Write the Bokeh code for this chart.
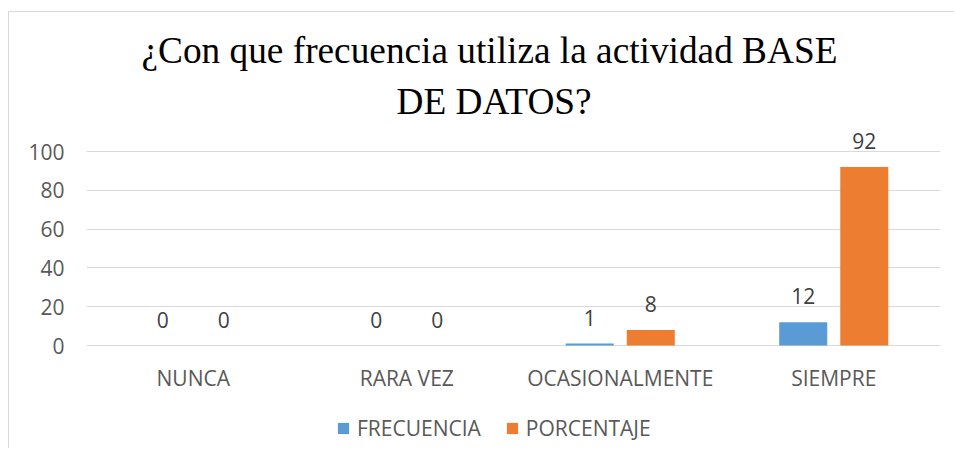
from bokeh.plotting import figure
from bokeh.models import ColumnDataSource, FactorRange, Range1d, FixedTicker, Legend, LegendItem, LabelSet, Title
from bokeh.core.properties import value
from bokeh.transform import dodge
from bokeh.embed import file_html
from bokeh.resources import INLINE

categories = ["NUNCA", "RARA VEZ", "OCASIONALMENTE", "SIEMPRE"]
frecuencia = [0, 0, 1, 12]
porcentaje = [0, 0, 8, 92]
y_ticks = [0, 20, 40, 60, 80, 100]
title_line1 = "¿Con que frecuencia utiliza la actividad BASE"
title_line2 = "DE DATOS?"

BLUE = "#5B9BD5"
ORANGE = "#ED7D31"
FONT = "Open Sans"
FS = "21px"

PX_PER_UNIT = 1.94
src = ColumnDataSource(dict(cat=categories, f=frecuencia, p=porcentaje,
                            fl=[str(v) for v in frecuencia], pl=[str(v) for v in porcentaje],
                            zero=[0] * len(categories)))

H = 437
TOP = 117
frame_h = H - TOP
y_end = 216 / PX_PER_UNIT
y_start = y_end - frame_h / PX_PER_UNIT

p = figure(width=946, height=H, x_range=FactorRange(*categories, range_padding=0),
           y_range=Range1d(y_start, y_end), output_backend="svg", toolbar_location=None,
           min_border_left=77, min_border_right=15, min_border_top=TOP, min_border_bottom=0)
p.styles = {"border-top": "1px solid #d9d9d9", "border-left": "1px solid #d9d9d9",
            "margin-top": "11px", "margin-left": "8px"}

t2 = Title(text=title_line2, align="left", offset=310, standoff=16, text_font="Liberation Serif",
           text_font_size="37.3px", text_font_style="normal", text_color="#000000")
t1 = Title(text=title_line1, align="left", offset=55, standoff=0, text_font="Liberation Serif",
           text_font_size="37.3px", text_font_style="normal", text_color="#000000")
p.add_layout(t2, "above")
p.add_layout(t1, "above")

p.outline_line_color = None
p.background_fill_color = None
p.xgrid.grid_line_color = None
p.ygrid.grid_line_color = "#d9d9d9"
p.ygrid.grid_line_width = 1
p.yaxis.ticker = FixedTicker(ticks=y_ticks)
p.xaxis.visible = False
p.yaxis.axis_line_color = None
p.yaxis.major_tick_line_color = None
p.yaxis.minor_tick_line_color = None
p.yaxis.major_label_text_font = FONT
p.yaxis.major_label_text_font_size = FS
p.yaxis.major_label_text_color = "#595959"
p.yaxis.major_label_standoff = 16

bw = 0.225
r1 = p.vbar(x=dodge("cat", -0.143, range=p.x_range), top="f", width=bw, source=src,
            fill_color=BLUE, line_color=None)
r2 = p.vbar(x=dodge("cat", 0.143, range=p.x_range), top="p", width=bw, source=src,
            fill_color=ORANGE, line_color=None)

for col, lab, off in (("f", "fl", -0.143), ("p", "pl", 0.143)):
    ls = LabelSet(x=dodge("cat", off, range=p.x_range), y=col, text=lab, source=src,
                  text_align="center", text_baseline="alphabetic", y_offset=18,
                  text_font=value(FONT), text_font_size=value(FS), text_color="#404040")
    p.add_layout(ls)

# category labels (x axis) drawn under the zero line
xl = LabelSet(x="cat", y="zero", text="cat", source=src, text_align="center",
              text_baseline="alphabetic", y_offset=-40,
              text_font=value(FONT), text_font_size=value(FS), text_color="#595959")
p.add_layout(xl)

legend = Legend(items=[LegendItem(label="FRECUENCIA", renderers=[r1]),
                       LegendItem(label="PORCENTAJE", renderers=[r2])],
                orientation="horizontal", location=(250, 7),
                glyph_width=14, glyph_height=14, label_standoff=7, spacing=24,
                padding=0, margin=0, border_line_color=None, background_fill_alpha=0,
                label_text_font=FONT, label_text_font_size=FS, label_text_color="#595959")
p.add_layout(legend, "center")

open("out.html", "w").write(file_html(p, INLINE))
